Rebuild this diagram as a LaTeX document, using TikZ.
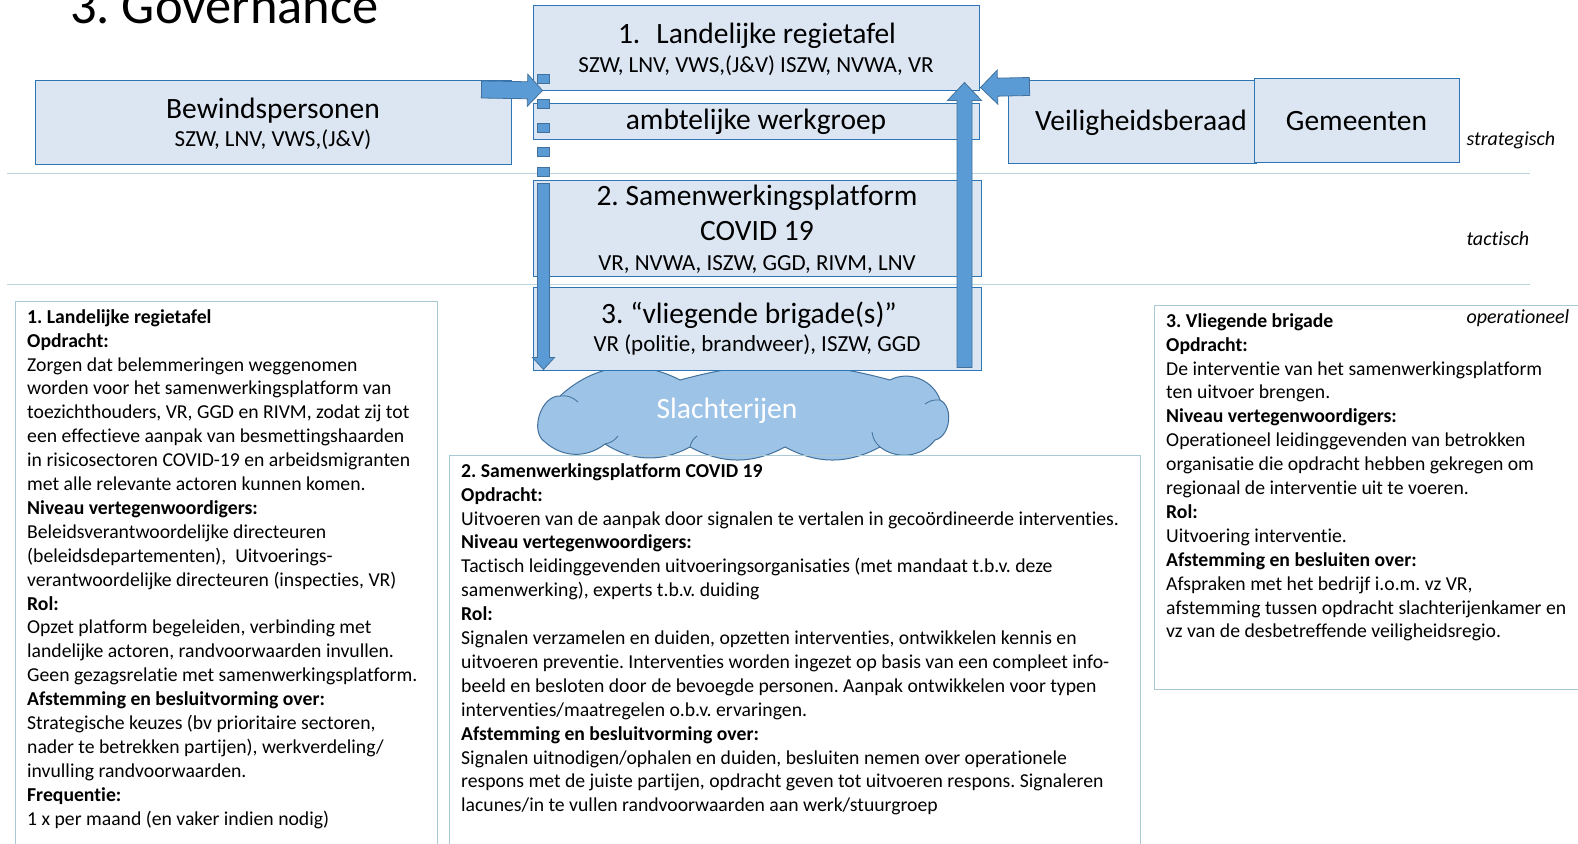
\documentclass[tikz,border=0pt]{standalone}
\usepackage{fontspec}
\setmainfont{Carlito}[Ligatures=NoCommon]
\usetikzlibrary{calc}
\frenchspacing

\definecolor{boxfill}{HTML}{DCE6F2}
\definecolor{boxline}{HTML}{2E75B6}
\definecolor{arrowfill}{HTML}{5B9BD5}
\definecolor{arrowline}{HTML}{41719C}
\definecolor{cloudfill}{HTML}{9DC3E6}
\definecolor{frameline}{HTML}{A9C9D4}
\definecolor{levelline}{HTML}{BCD6DE}

\newcommand{\titlefont}{\fontsize{52.5}{60}\selectfont}
\newcommand{\bigfont}{\fontsize{29.5}{35}\selectfont}
\newcommand{\subfont}{\fontsize{23}{28}\selectfont}
\newcommand{\bodyfont}{\fontsize{19.7}{23.9}\selectfont}
\newcommand{\levelfont}{\fontsize{20}{24}\selectfont\itshape}

% block arrow: tail, tip, shaft half width, head half width, head length
\newcommand{\blockarrow}[5]{%
  \path ($(#2)!#5!(#1)$) coordinate (head);
  \draw[blockarr] ($(#1)!#3!90:(#2)$) -- ($(head)!#3!90:(#2)$) -- ($(head)!#4!90:(#2)$) -- (#2)
    -- ($(head)!#4!-90:(#2)$) -- ($(head)!#3!-90:(#2)$) -- ($(#1)!#3!-90:(#2)$) -- cycle;}

\begin{document}
\begin{tikzpicture}[x=1pt,y=-1pt,
  panel/.style={draw=boxline,fill=boxfill,line width=1pt,inner sep=0pt},
  blockarr/.style={fill=arrowfill,draw=arrowline,line width=0.8pt},
  infotext/.style={anchor=north west,align=left,inner sep=0pt,font=\bodyfont},
  frame/.style={draw=frameline,line width=1pt},
  puff/.style={arrowline,line width=0.8pt}]
\useasboundingbox (0,0) rectangle (1578,843);
\clip (0,0) rectangle (1578,843);

% lines between the levels
\draw[levelline] (7,173) -- (1530,173);
\draw[levelline] (7,284) -- (1530,284);

\node[anchor=base west,font=\titlefont,inner sep=0pt] (title) at (70,24) {3. Governance};

% cloud
\coordinate (cloud) at (742,415);
\draw[fill=cloudfill,draw=arrowline,line width=1pt]
  (545,442) to[bend left=75] (560,396) to[bend left=35] (680,380) to[bend left=15] (890,380)
  to[bend left=50] (940,400) to[bend left=70] (935,440) to[bend left=45] (880,447)
  to[bend left=28] (785,447) to[bend left=28] (690,447) to[bend left=30] (605,444)
  to[bend left=40] cycle;
\draw[puff] (560,396) to[bend left=25] (578,402);
\draw[puff] (940,400) to[bend right=20] (925,404);
\draw[puff] (880,447) to[bend left=20] (872,432);
\draw[puff] (690,447) to[bend left=20] (697,436);
\draw[puff] (605,444) to[bend right=20] (618,436);

% boxes of the scheme
\node[panel,minimum width=476pt,minimum height=84pt] (bew) at (273,122) {};
\node[panel,minimum width=446pt,minimum height=84pt] (land) at (756,48) {};
\node[panel,minimum width=446pt,minimum height=36pt] (ambt) at (756,121) {};
\node[panel,minimum width=248pt,minimum height=83pt] (veil) at (1132,121.5) {};
\node[panel,minimum width=205pt,minimum height=84pt] (gem) at (1356.5,120) {};
\node[panel,minimum width=448pt,minimum height=96pt] (sam) at (757,228) {};
\node[panel,minimum width=448pt,minimum height=83pt] (vlieg) at (757,328.5) {};

% texts in the boxes
\node[anchor=base,font=\bigfont] (landtitle) at ($(land.north)+(1,38)$) {1.\hspace*{16pt}Landelijke regietafel};
\node[anchor=base,font=\subfont] (landsub) at ($(land.north)+(0,67)$) {SZW, LNV, VWS,(J\&V) ISZW, NVWA, VR};
\node[anchor=base,font=\bigfont] (ambttitle) at ($(ambt.north)+(0,27)$) {ambtelijke werkgroep};
\node[anchor=base,font=\bigfont] (bewtitle) at ($(bew.north)+(0,39)$) {Bewindspersonen};
\node[anchor=base,font=\subfont] (bewsub) at ($(bew.north)+(0,67)$) {SZW, LNV, VWS,(J\&V)};
\node[anchor=base,font=\bigfont] (veiltitle) at ($(veil.north)+(9,51)$) {Veiligheidsberaad};
\node[anchor=base,font=\bigfont] (gemtitle) at ($(gem.north)+(0,53)$) {Gemeenten};
\node[anchor=base,font=\bigfont] (samtitle) at ($(sam.north)+(0,26)$) {2. Samenwerkingsplatform};
\node[anchor=base,font=\bigfont] (samcovid) at ($(sam.north)+(0,61)$) {COVID 19};
\node[anchor=base,font=\subfont] (samsub) at ($(sam.north)+(0,91)$) {VR, NVWA, ISZW, GGD, RIVM, LNV};
\node[anchor=base,font=\bigfont] (vliegtitle) at ($(vlieg.north)+(-8,37)$) {3. “vliegende brigade(s)”};
\node[anchor=base,font=\subfont] (vliegsub) at ($(vlieg.north)+(0,65)$) {VR (politie, brandweer), ISZW, GGD};
\node[anchor=base,font=\bigfont,text=white] (cloudtext) at ($(cloud)+(-15,3)$) {Slachterijen};

% arrows
\blockarrow{$(bew.north east)+(-30,10)$}{$(land.south west)+(10,0)$}{8.5pt}{16pt}{15pt}
\blockarrow{$(veil.north west)+(22,7)$}{$(land.south east)+(1,-3)$}{9pt}{17pt}{17pt}
\blockarrow{$(vlieg.south east)+(-17,-3)$}{$(land.south east)+(-15,-8)$}{7.5pt}{17pt}{18pt}
\blockarrow{$(sam.north west)+(11,4)$}{$(vlieg.south west)+(11,-1)$}{6pt}{11pt}{12pt}
\foreach \dy in {0,25,49,73,93}
  \draw[blockarr] ($(land.south west)+(5,-16+\dy)$) rectangle +(12,9);

% levels
\node[anchor=base west,font=\levelfont] (strat) at (1463,145) {strategisch};
\node[anchor=base west,font=\levelfont] (tact) at (1463,245) {tactisch};
\node[anchor=base west,font=\levelfont] (oper) at (1463,323) {operationeel};

% explanation boxes
\draw[frame] (15,301) rectangle (437,870);
\draw[frame] (449,455) rectangle (1140,870);
\draw[frame] (1154,305) rectangle (1590,689);

\node[infotext] (lefttext) at (27,306.3) {\strut\textbf{1. Landelijke regietafel}\\
\textbf{Opdracht:}\\
Zorgen dat belemmeringen weggenomen\\
worden voor het samenwerkingsplatform van\\
toezichthouders, VR, GGD en RIVM, zodat zij tot\\
een effectieve aanpak van besmettingshaarden\\
in risicosectoren COVID-19 en arbeidsmigranten\\
met alle relevante actoren kunnen komen.\\
\textbf{Niveau vertegenwoordigers:}\\
Beleidsverantwoordelijke directeuren\\
(beleidsdepartementen),\ \ Uitvoerings-\\
verantwoordelijke directeuren (inspecties, VR)\\
\textbf{Rol:}\\
Opzet platform begeleiden, verbinding met\\
landelijke actoren, randvoorwaarden invullen.\\
Geen gezagsrelatie met samenwerkingsplatform.\\
\textbf{Afstemming en besluitvorming over:}\\
Strategische keuzes (bv prioritaire sectoren,\\
nader te betrekken partijen), werkverdeling/\\
invulling randvoorwaarden.\\
\textbf{Frequentie:}\\
1 x per maand (en vaker indien nodig)};

\node[infotext] (midtext) at (461,460.3) {\strut\textbf{2. Samenwerkingsplatform COVID 19}\\
\textbf{Opdracht:}\\
Uitvoeren van de aanpak door signalen te vertalen in gecoördineerde interventies.\\
\textbf{Niveau vertegenwoordigers:}\\
Tactisch leidinggevenden uitvoeringsorganisaties (met mandaat t.b.v. deze\\
samenwerking), experts t.b.v. duiding\\
\textbf{Rol:}\\
Signalen verzamelen en duiden, opzetten interventies, ontwikkelen kennis en\\
uitvoeren preventie. Interventies worden ingezet op basis van een compleet info-\\
beeld en besloten door de bevoegde personen. Aanpak ontwikkelen voor typen\\
interventies/maatregelen o.b.v. ervaringen.\\
\textbf{Afstemming en besluitvorming over:}\\
Signalen uitnodigen/ophalen en duiden, besluiten nemen over operationele\\
respons met de juiste partijen, opdracht geven tot uitvoeren respons. Signaleren\\
lacunes/in te vullen randvoorwaarden aan werk/stuurgroep};

\node[infotext] (righttext) at (1166,310.3) {\strut\textbf{3. Vliegende brigade}\\
\textbf{Opdracht:}\\
De interventie van het samenwerkingsplatform\\
ten uitvoer brengen.\\
\textbf{Niveau vertegenwoordigers:}\\
Operationeel leidinggevenden van betrokken\\
organisatie die opdracht hebben gekregen om\\
regionaal de interventie uit te voeren.\\
\textbf{Rol:}\\
Uitvoering interventie.\\
\textbf{Afstemming en besluiten over:}\\
Afspraken met het bedrijf i.o.m. vz VR,\\
afstemming tussen opdracht slachterijenkamer en\\
vz van de desbetreffende veiligheidsregio.};
\end{tikzpicture}
\end{document}
